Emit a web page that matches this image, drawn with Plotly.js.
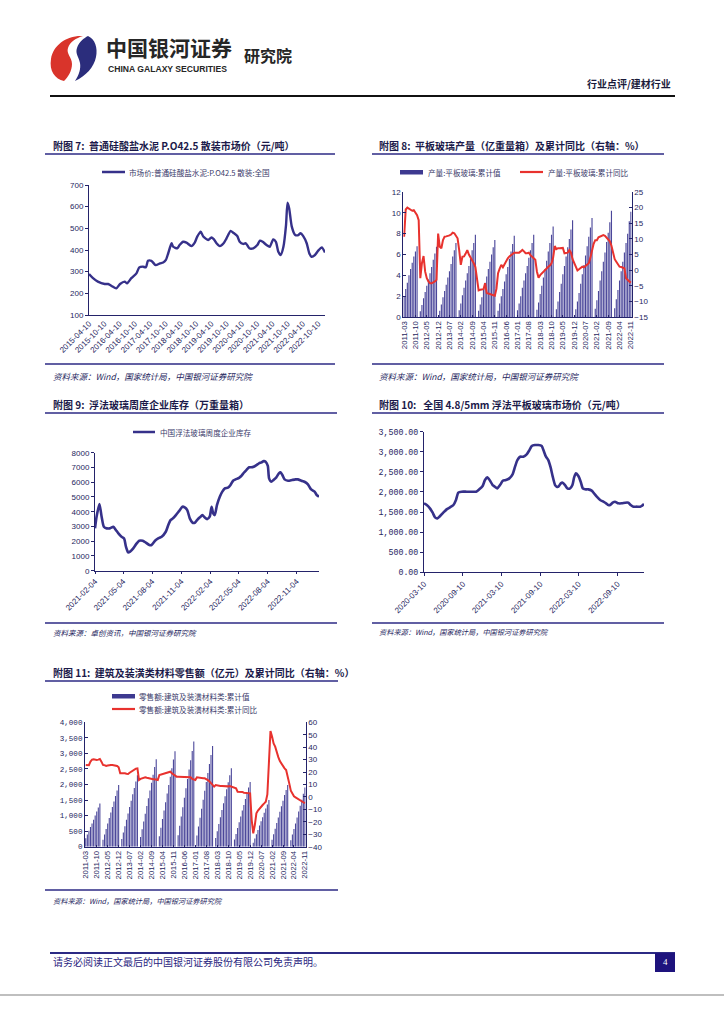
<!DOCTYPE html>
<html><head><meta charset="utf-8">
<script src="https://cdn.plot.ly/plotly-3.0.1.min.js"></script>
<style>html,body{margin:0;padding:0;background:#fff;} #page{width:724px;height:1024px;}</style>
</head><body><div id="page"></div>
<script>
// ---------- Chart 7: cement price ----------
const cementDates = ['2015-04-10','2015-05-28','2015-07-25','2015-10-15','2015-11-25','2016-01-05','2016-03-01','2016-04-15','2016-06-10','2016-07-08','2016-08-28','2016-10-28','2016-12-01','2017-01-15','2017-02-18','2017-03-15','2017-04-25','2017-06-15','2017-08-05','2017-09-12','2017-10-15','2017-11-12','2017-12-22','2018-01-10','2018-02-28','2018-03-28','2018-05-10','2018-06-18','2018-08-15','2018-09-25','2018-10-25','2018-12-05','2019-01-05','2019-03-05','2019-04-12','2019-05-10','2019-06-12','2019-07-22','2019-09-05','2019-10-10','2019-11-28','2019-12-28','2020-02-15','2020-03-15','2020-04-25','2020-05-28','2020-07-08','2020-08-25','2020-10-12','2020-11-12','2020-12-15','2021-01-30','2021-03-10','2021-04-20','2021-05-22','2021-06-20','2021-07-18','2021-08-20','2021-09-20','2021-10-08','2021-10-28','2021-11-28','2022-01-08','2022-02-15','2022-03-12','2022-04-12','2022-05-25','2022-06-25','2022-07-22','2022-09-01','2022-10-10','2022-11-22','2022-12-30'];
const cementPrice = [289,270,254,243,243,234,223,243,254,246,270,292,320,323,320,350,350,330,338,342,354,385,431,415,408,423,438,434,418,434,462,485,462,446,458,450,431,418,431,454,488,480,465,438,428,431,408,408,423,443,438,423,415,449,438,392,377,415,515,618,592,508,469,469,477,465,431,385,369,377,397,412,388];
const cementTicks = ['2015-04-10','2015-10-10','2016-04-10','2016-10-10','2017-04-10','2017-10-10','2018-04-10','2018-10-10','2019-04-10','2019-10-10','2020-04-10','2020-10-10','2021-04-10','2021-10-10','2022-04-10','2022-10-10'];

// ---------- Chart 8: flat glass output (cumulative) & YoY ----------
const go2011 = [2.0,2.7,3.3,4.0,4.6,5.2,5.8,6.3,6.8,null];
const go2012 = [0.55,1.15,1.8,2.4,3.0,3.6,4.2,4.8,5.5,6.1,6.75,null];
const go2013 = [0.6,1.2,1.9,2.5,3.1,3.8,4.4,5.1,5.8,6.4,7.1,null];
const go2014 = [0.65,1.3,2.1,2.8,3.5,4.2,4.9,5.6,6.4,7.1,7.9,null];
const go2015 = [0.6,1.2,1.9,2.6,3.3,3.9,4.6,5.3,6.0,6.7,7.4,null];
const go2016 = [0.6,1.3,2.0,2.7,3.4,4.1,4.8,5.6,6.3,7.0,7.8,null];
const go2017 = [0.65,1.3,2.0,2.8,3.5,4.2,4.9,5.7,6.4,7.1,7.9,null];
const go2018 = [0.7,1.4,2.2,3.0,3.8,4.6,5.4,6.3,7.1,7.9,8.7,null];
const go2019 = [0.75,1.5,2.4,3.2,4.1,4.9,5.8,6.7,7.5,8.4,9.3,null];
const go2020 = [0.75,1.5,2.3,3.2,4.1,5.0,5.9,6.8,7.7,8.6,9.5,null];
const go2021 = [0.8,1.6,2.5,3.5,4.4,5.3,6.2,7.2,8.1,9.1,10.2,null];
const go2022 = [0.85,1.7,2.6,3.5,4.4,5.3,6.2,7.1,8.0,9.2,10.1];
const glassOutput = [].concat(go2011,go2012,go2013,go2014,go2015,go2016,go2017,go2018,go2019,go2020,go2021,go2022);
const glassYoY = [10.7,19.4,20.0,19.6,19.2,19.0,19.2,18.3,17.6,16.0,
 -2.6,2.2,4.5,-0.5,-2.6,-3.6,-4.2,-4.2,-4.0,-3.6,-3.1,11.7,
 7.5,7.0,9.6,10.7,10.8,10.9,11.1,11.4,12.0,11.8,11.0,10.2,
 6.4,1.7,4.3,4.4,5.3,6.4,5.0,4.2,3.3,2.2,1.0,-3.5,
 -6.5,-6.3,-6.1,-6.1,-4.2,-7.3,-7.5,-7.7,-7.9,-8.1,-8.2,-6.0,
 -1.0,0.5,1.7,0.9,1.9,3.1,3.8,4.4,4.9,5.2,5.6,5.6,
 5.6,5.6,6.0,6.5,6.0,5.4,5.4,5.6,4.8,4.4,4.0,3.3,
 -0.5,-2.4,-1.6,-1.0,-0.5,0.2,0.6,1.1,1.5,2.2,4.0,7.7,
 6.7,7.0,7.0,7.0,7.1,5.4,5.5,5.6,6.4,5.6,3.5,2.3,
 1.2,-0.1,0.3,0.7,1.1,0.9,1.4,1.9,2.2,4.0,6.5,8.4,
 9.6,9.6,10.5,10.8,10.9,11.2,11.0,10.5,9.8,9.2,7.8,6.0,
 3.5,2.7,1.9,1.1,1.0,0.8,0.6,-2.6,-3.2,-3.6,-4.0];

// ---------- Chart 9: float glass weekly inventory ----------
const invDates = ['2021-02-04','2021-02-09','2021-02-18','2021-02-25','2021-03-04','2021-03-13','2021-03-23','2021-04-03','2021-04-11','2021-04-19','2021-04-29','2021-05-07','2021-05-13','2021-05-20','2021-05-26','2021-06-05','2021-06-16','2021-06-24','2021-07-05','2021-07-15','2021-07-26','2021-08-02','2021-08-13','2021-08-23','2021-09-03','2021-09-16','2021-09-24','2021-10-01','2021-10-09','2021-10-18','2021-10-28','2021-11-08','2021-11-15','2021-11-23','2021-12-01','2021-12-10','2021-12-17','2021-12-24','2022-01-02','2022-01-10','2022-01-17','2022-01-25','2022-02-02','2022-02-08','2022-02-13','2022-02-18','2022-02-25','2022-03-06','2022-03-14','2022-03-22','2022-04-01','2022-04-09','2022-04-17','2022-04-25','2022-05-06','2022-05-13','2022-05-21','2022-05-29','2022-06-07','2022-06-14','2022-06-21','2022-06-30','2022-07-08','2022-07-16','2022-07-23','2022-07-29','2022-08-05','2022-08-09','2022-08-16','2022-08-23','2022-09-01','2022-09-09','2022-09-14','2022-09-20','2022-09-27','2022-10-08','2022-10-21','2022-11-01','2022-11-08','2022-11-19','2022-11-29','2022-12-10','2022-12-20','2022-12-31','2023-01-07','2023-01-14'];
const invValues = [2870,3660,4520,3660,2980,2870,2870,2980,2760,2530,2300,2190,1630,1240,1290,1510,1850,2030,2030,1900,1740,1740,2030,2190,2300,2640,3100,3430,3550,3770,4040,4340,4290,4110,3550,3250,3250,3430,3620,3770,3620,3500,3660,4340,3890,3770,4450,5020,5360,5580,5630,5810,6100,6190,6300,6420,6640,6820,7010,7010,7050,7160,7280,7340,7430,7390,7100,6260,6030,6150,6330,6600,6670,6490,6190,6100,6150,6190,6190,6100,6030,5850,5510,5360,5130,5020];
const invTicks = ['2021-02-04','2021-05-04','2021-08-04','2021-11-04','2022-02-04','2022-05-04','2022-08-04','2022-11-04'];

// ---------- Chart 10: 4.8/5mm float glass price ----------
const priceDates = ['2020-03-10','2020-03-23','2020-04-07','2020-04-20','2020-05-01','2020-05-12','2020-05-25','2020-06-09','2020-06-25','2020-07-11','2020-07-27','2020-08-08','2020-08-19','2020-09-04','2020-09-28','2020-10-21','2020-11-11','2020-11-26','2020-12-12','2020-12-23','2021-01-03','2021-01-16','2021-01-28','2021-02-08','2021-02-19','2021-03-04','2021-03-17','2021-04-01','2021-04-17','2021-05-03','2021-05-14','2021-05-25','2021-06-07','2021-06-22','2021-07-08','2021-07-21','2021-08-01','2021-08-16','2021-09-01','2021-09-17','2021-09-25','2021-10-07','2021-10-18','2021-10-29','2021-11-08','2021-11-19','2021-11-27','2021-12-05','2021-12-16','2021-12-25','2022-01-05','2022-01-16','2022-01-29','2022-02-09','2022-02-17','2022-02-26','2022-03-09','2022-03-20','2022-03-30','2022-04-10','2022-04-25','2022-05-11','2022-05-22','2022-06-04','2022-06-20','2022-07-05','2022-07-18','2022-07-29','2022-08-06','2022-08-18','2022-08-29','2022-09-14','2022-09-30','2022-10-16','2022-10-31','2022-11-11','2022-11-24','2022-12-10','2022-12-26','2023-01-02','2023-01-13'];
const priceValues = [1717,1675,1592,1484,1368,1343,1401,1484,1567,1617,1675,1800,1982,2007,2007,2007,2007,2065,2148,2297,2363,2280,2172,2131,2090,2172,2280,2297,2338,2446,2629,2794,2877,2877,2935,3043,3143,3167,3167,3143,3043,2877,2794,2612,2380,2172,2131,2131,2214,2231,2172,2090,2090,2172,2363,2463,2396,2255,2090,2065,2065,2032,1965,1882,1800,1758,1717,1675,1675,1733,1758,1717,1717,1733,1733,1675,1634,1634,1634,1650,1700];
const priceTicks = ['2020-03-10','2020-09-10','2021-03-10','2021-09-10','2022-03-10','2022-09-10'];

// ---------- Chart 11: building & decoration materials retail ----------
const rs2011 = [270,390,510,630,750,870,1000,1130,1260,1390];
const rs2012 = [null,220,395,570,750,925,1100,1280,1455,1630,1810,1984];
const rs2013 = [null,250,460,660,870,1070,1280,1480,1690,1890,2100,2300];
const rs2014 = [null,310,560,810,1060,1310,1560,1810,2060,2310,2560,2810];
const rs2015 = [null,340,610,890,1160,1430,1710,1980,2250,2520,2800,3070];
const rs2016 = [null,370,670,970,1270,1570,1880,2180,2480,2780,3080,3380];
const rs2017 = [null,360,650,930,1220,1510,1800,2080,2370,2660,2950,3240];
const rs2018 = [null,280,500,730,950,1180,1400,1620,1850,2070,2300,2520];
const rs2019 = [null,230,410,600,790,970,1160,1340,1530,1710,1900,2080];
const rs2020 = [null,130,260,400,540,680,820,950,1090,1230,1360,1500];
const rs2021 = [null,220,400,580,760,940,1120,1300,1480,1660,1820,1985];
const rs2022 = [null,210,390,570,750,940,1130,1320,1510,1700,1900];
const retailSales = [].concat(rs2011,rs2012,rs2013,rs2014,rs2015,rs2016,rs2017,rs2018,rs2019,rs2020,rs2021,rs2022);
const retailYoY = [25.7,25.5,25.5,28.5,30.0,30.2,29.8,29.7,30.0,30.5,
 28.4,25.7,25.5,24.9,25.2,25.7,25.7,25.7,25.5,25.0,24.9,23.8,
 19.0,19.0,19.2,19.0,18.6,18.4,19.5,20.3,21.5,22.2,22.8,23.0,
 13.6,14.5,15.0,15.6,15.8,15.4,15.0,14.6,14.2,14.2,14.2,14.0,
 13.6,17.6,18.0,18.4,18.7,19.0,19.5,20.0,20.3,19.0,18.3,17.6,
 16.3,16.3,16.3,16.3,16.3,16.0,15.8,15.8,15.8,15.8,14.5,14.2,
 13.6,15.8,15.5,15.2,15.0,15.0,15.0,14.5,13.6,12.5,10.9,9.5,
 8.3,9.6,9.2,8.8,8.8,8.8,8.6,8.5,8.3,8.5,8.8,8.2,
 7.7,7.3,6.9,4.2,4.2,4.2,4.0,3.4,3.4,3.4,3.2,2.9,
 -18.6,-29.3,-22.6,-13.2,-11.0,-9.2,-7.8,-6.5,-5.2,-3.8,2.0,29.7,
 53.0,48.5,43.0,40.4,35.0,32.0,28.8,26.5,24.3,23.0,21.7,17.0,
 10.9,5.0,2.9,0.5,-0.3,-1.2,-1.9,-2.8,-3.8,-4.5,-5.1];

// monthly categories 2011-03 .. 2022-11
const months = [];
for (let y = 2011; y <= 2022; y++) for (let m = 1; m <= 12; m++) {
  if ((y === 2011 && m < 3) || (y === 2022 && m > 11)) continue;
  months.push(y + '-' + String(m).padStart(2, '0'));
}
const monthTicks = months.filter((_, i) => i % 7 === 0);

// ---------- page geometry helpers ----------
const W = 724, H = 1024;
const X = p => p / W, Y = p => 1 - p / H;
const NAVY = '#2c2a84', TXT = '#26265e', RED = '#e8322e', LINEC = '#36318a';
const LAT = 'Liberation Sans, Arial, sans-serif';
const CJK = 'Noto Sans CJK SC, sans-serif';
const MONO = 'Liberation Mono, DejaVu Sans Mono, monospace';

function ax(extra) {
  return Object.assign({showline: true, linecolor: '#24236a', linewidth: 1, showgrid: false, zeroline: false,
    tickfont: {family: LAT, size: 8, color: TXT}, tickcolor: '#24236a', fixedrange: true}, extra);
}

const traces = [
  {type: 'scatter', mode: 'lines', x: cementDates, y: cementPrice, xaxis: 'x', yaxis: 'y',
   line: {color: LINEC, width: 2.4, shape: 'spline', smoothing: 0.6}},
  {type: 'bar', x: months, y: glassOutput, xaxis: 'x2', yaxis: 'y2', marker: {color: '#4b479a'}},
  {type: 'scatter', mode: 'lines', x: months, y: glassYoY, xaxis: 'x2', yaxis: 'y3',
   line: {color: RED, width: 2}},
  {type: 'scatter', mode: 'lines', x: invDates, y: invValues, xaxis: 'x3', yaxis: 'y4',
   line: {color: LINEC, width: 2.6, shape: 'spline', smoothing: 0.6}},
  {type: 'scatter', mode: 'lines', x: priceDates, y: priceValues, xaxis: 'x4', yaxis: 'y5',
   line: {color: LINEC, width: 2.6, shape: 'spline', smoothing: 0.6}},
  {type: 'bar', x: months, y: retailSales, xaxis: 'x5', yaxis: 'y6', marker: {color: '#4b479a'}},
  {type: 'scatter', mode: 'lines', x: months, y: retailYoY, xaxis: 'x5', yaxis: 'y7',
   line: {color: RED, width: 2}}
];

function L(x0, y0, x1, y1, color, w) {
  return {type: 'line', xref: 'paper', yref: 'paper', x0: X(x0), y0: Y(y0), x1: X(x1), y1: Y(y1), line: {color: color, width: w}};
}
function R(x0, y0, x1, y1, color) {
  return {type: 'rect', xref: 'paper', yref: 'paper', x0: X(x0), y0: Y(y0), x1: X(x1), y1: Y(y1), line: {width: 0}, fillcolor: color};
}
function PATH(cmds, color) {
  let s = '';
  cmds.forEach(c => {
    s += c[0];
    for (let k = 1; k < c.length; k += 2) s += ' ' + X(c[k]).toFixed(5) + ',' + Y(c[k + 1]).toFixed(5);
    s += ' ';
  });
  return {type: 'path', xref: 'paper', yref: 'paper', path: s + 'Z', fillcolor: color, line: {width: 0}};
}
function T(text, x, y, size, color, family, extra) {
  return Object.assign({text: text, x: X(x), y: Y(y), xref: 'paper', yref: 'paper', xanchor: 'left', yanchor: 'middle',
    showarrow: false, font: {family: family || CJK, size: size, color: color}}, extra || {});
}

const shapes = [
  // header
  L(50, 96, 675, 96, '#111', 2),
  PATH([['M', 83, 36], ['C', 67, 35, 53, 45, 51, 59], ['C', 49, 71, 55, 79, 64, 81], ['C', 68, 77, 72, 71, 72, 64], ['C', 72, 57, 66, 54, 68, 48], ['C', 70, 42, 76, 38, 83, 36]], '#d9342b'),
  PATH([['M', 88, 36], ['C', 95, 39, 98, 48, 96, 57], ['C', 94, 67, 86, 76, 75, 81], ['C', 79, 75, 81, 69, 80, 63], ['C', 79, 57, 75, 54, 77, 48], ['C', 79, 42, 84, 38, 88, 36]], '#2b2d7c'),
  // title underlines & bottom rules
  L(45, 154, 335, 154, NAVY, 1.5), L(372, 154, 664, 154, NAVY, 1.5),
  L(45, 364, 335, 364, NAVY, 1.5), L(372, 364, 664, 364, NAVY, 1.5),
  L(45, 413, 337, 413, NAVY, 1.5), L(372, 413, 664, 413, NAVY, 1.5),
  L(45, 623, 337, 623, NAVY, 1.5), L(372, 623, 664, 623, NAVY, 1.5),
  L(45, 681, 338, 681, NAVY, 1.5), L(45, 890, 338, 890, NAVY, 1.5),
  // legends
  L(102, 172, 125, 172, LINEC, 2.5),
  R(400, 170, 423, 174.5, '#3d3990'), L(520, 172, 543, 172, RED, 2.2),
  L(133, 432, 155, 432, LINEC, 2.5),
  R(112, 694, 135, 698.5, '#3d3990'), L(112, 709, 135, 709, RED, 2.2),
  // footer
  L(50, 953, 675, 953, NAVY, 2),
  R(655, 953, 675, 972, '#1e137d'),
  L(0, 995, 724, 995, '#aaaaaa', 1.5)
];

const srcW = '<i>资料来源：Wind，国家统计局，中国银河证券研究院</i>';
const annotations = [
  T('<b>中国银河证券</b>', 104, 47, 21, '#262626'),
  T('<b>CHINA GALAXY SECURITIES</b>', 106, 69, 8.6, '#262626', LAT),
  T('<b>研究院</b>', 242, 55, 16, '#262626'),
  T('<b>行业点评/建材行业</b>', 673, 83, 10, '#1a1a3a', CJK, {xanchor: 'right'}),
  // titles
  T('<b>附图 7:  普通硅酸盐水泥 P.O42.5 散装市场价（元/吨）</b>', 51, 145, 10, '#1b1a4a'),
  T('<b>附图 8:  平板玻璃产量（亿重量箱）及累计同比（右轴：%）</b>', 377, 145, 10, '#1b1a4a'),
  T('<b>附图 9:  浮法玻璃周度企业库存（万重量箱）</b>', 51, 404, 10, '#1b1a4a'),
  T('<b>附图 10:   全国 4.8/5mm 浮法平板玻璃市场价（元/吨）</b>', 377, 404, 10, '#1b1a4a'),
  T('<b>附图 11:  建筑及装潢类材料零售额（亿元）及累计同比（右轴：%）</b>', 51, 672, 10, '#1b1a4a'),
  // sources
  T(srcW, 51, 376, 8.5, TXT),
  T(srcW, 377, 376, 8.5, TXT),
  T('<i>资料来源：卓创资讯，中国银河证券研究院</i>', 51, 632, 7.5, TXT),
  T(srcW, 377, 632, 7.2, TXT),
  T(srcW, 51, 901, 7.2, TXT),
  // legend texts
  T('市场价:普通硅酸盐水泥:P.O42.5 散装:全国', 127, 172, 7.6, '#3a3a6a'),
  T('产量:平板玻璃:累计值', 426, 172, 7.6, '#3a3a6a'),
  T('产量:平板玻璃:累计同比', 546, 172, 7.6, '#3a3a6a'),
  T('中国浮法玻璃周度企业库存', 158, 432, 7.6, '#3a3a6a'),
  T('零售额:建筑及装潢材料类:累计值', 137, 696, 7.6, '#3a3a6a'),
  T('零售额:建筑及装潢材料类:累计同比', 137, 709, 7.6, '#3a3a6a'),
  // footer
  T('请务必阅读正文最后的中国银河证券股份有限公司免责声明。', 51, 961, 10, '#2a2580'),
  T('4', 665, 962, 9, '#ffffff', 'Liberation Serif, serif', {xanchor: 'center'})
];

const layout = {
  width: W, height: H, autosize: false, margin: {l: 0, r: 0, t: 0, b: 0},
  paper_bgcolor: '#fff', plot_bgcolor: 'rgba(0,0,0,0)', showlegend: false, bargap: 0.3,
  xaxis: ax({domain: [X(89), X(325)], anchor: 'y', type: 'date', range: ['2015-04-10', '2022-12-30'],
    tickmode: 'array', tickvals: cementTicks, ticktext: cementTicks, tickangle: -45, ticks: ''}),
  yaxis: ax({domain: [Y(315), Y(185)], anchor: 'x', range: [100, 700], dtick: 100, ticks: 'outside', ticklen: 3}),
  xaxis2: ax({domain: [X(403.3), X(631.7)], anchor: 'y2', type: 'category', range: [-0.5, 140.5],
    tickmode: 'array', tickvals: monthTicks, ticktext: monthTicks, tickangle: -90, ticks: 'inside', ticklen: 2, tickfont: {family: LAT, size: 7.8, color: TXT}}),
  yaxis2: ax({domain: [Y(317), Y(192)], anchor: 'x2', range: [0, 12], dtick: 2, ticks: 'inside', ticklen: 3}),
  yaxis3: ax({overlaying: 'y2', anchor: 'x2', side: 'right', range: [-15, 25], dtick: 5, ticks: 'inside', ticklen: 3}),
  xaxis3: ax({domain: [X(95), X(319)], anchor: 'y4', type: 'date', range: ['2021-02-04', '2023-01-14'],
    tickmode: 'array', tickvals: invTicks, ticktext: invTicks, tickangle: -45, ticks: 'outside', ticklen: 2}),
  yaxis4: ax({domain: [Y(570.7), Y(452.7)], anchor: 'x3', range: [0, 8000], dtick: 1000, ticks: 'outside', ticklen: 3}),
  xaxis4: ax({domain: [X(424), X(644)], anchor: 'y5', type: 'date', range: ['2020-03-10', '2023-01-13'],
    tickmode: 'array', tickvals: priceTicks, ticktext: priceTicks, tickangle: -45, ticks: 'outside', ticklen: 3}),
  yaxis5: ax({domain: [Y(572.3), Y(431.7)], anchor: 'x4', range: [0, 3500], dtick: 500, tickformat: ',.2f',
    ticks: 'outside', ticklen: 3, tickfont: {family: MONO, size: 8.3, color: TXT}}),
  xaxis5: ax({domain: [X(85), X(305.7)], anchor: 'y6', type: 'category', range: [-0.5, 140.5],
    tickmode: 'array', tickvals: monthTicks, ticktext: monthTicks, tickangle: -90, ticks: 'inside', ticklen: 2, tickfont: {family: LAT, size: 7.8, color: TXT}}),
  yaxis6: ax({domain: [Y(846.7), Y(722.3)], anchor: 'x5', range: [0, 4000], dtick: 500, tickformat: ',',
    ticks: 'inside', ticklen: 3, tickfont: {family: MONO, size: 7.6, color: TXT}}),
  yaxis7: ax({overlaying: 'y6', anchor: 'x5', side: 'right', range: [-40, 60], dtick: 10, ticks: 'inside', ticklen: 3}),
  shapes: shapes,
  annotations: annotations
};

Plotly.newPlot('page', traces, layout, {staticPlot: true, displayModeBar: false});
</script></body></html>
